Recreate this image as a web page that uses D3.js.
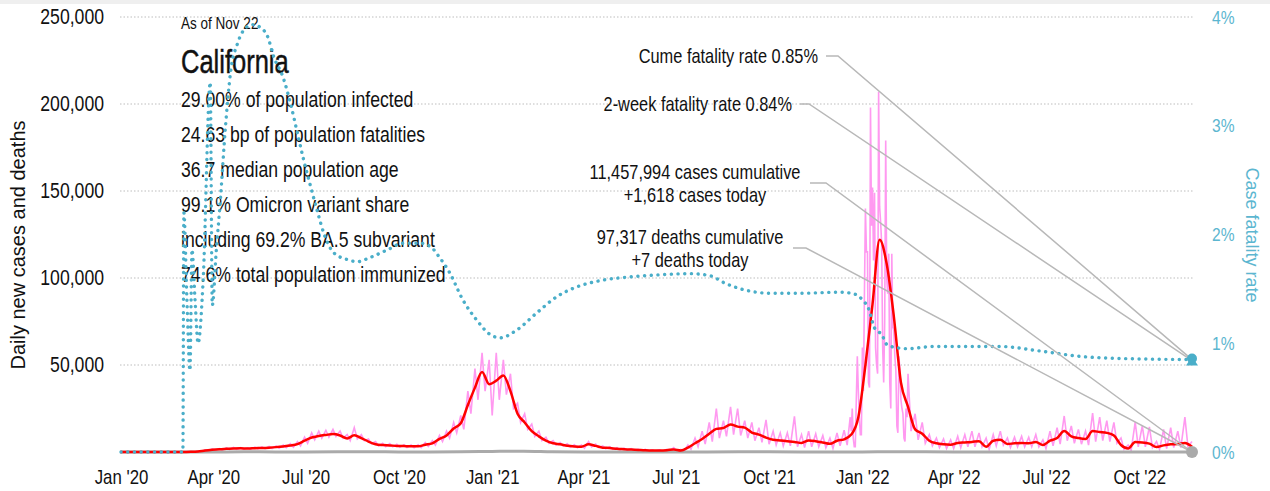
<!DOCTYPE html>
<html>
<head>
<meta charset="utf-8">
<script src="https://cdn.jsdelivr.net/npm/d3@7"></script>
<style>
  body { margin: 0; background: #fff; }
  svg { display: block; }
  text { font-family: "Liberation Sans", Arial, sans-serif; fill: #111; }
</style>
</head>
<body>
<div id="chart"></div>
<script>
// weekly series, first point Dec 31 2019, last Nov 22 2022 (thousands of cases)
var casesAvgK = [
  0, 0, 0, 0, 0, 0, 0, 0, 0, 0.05,
  0.1, 0.3, 0.9, 1.3, 1.6, 1.8, 2.0, 2.1, 2.0, 2.2,
  2.3, 2.5, 2.8, 3.2, 3.7, 4.5, 6.5, 8.3, 9.2, 9.8,
  10.3, 9.5, 7.8, 9.6, 8.0, 6.0, 4.5, 4.0, 3.8, 3.5,
  3.4, 3.3, 3.3, 4.2, 5.0, 7.5, 9.5, 13.5, 16.5, 27,
  37, 46, 39, 41, 44, 35, 22, 17, 12, 9,
  6.5, 5, 4.4, 3.6, 3.2, 3.0, 4.5, 3.5, 2.5, 2.3,
  1.8, 1.6, 1.4, 1.2, 1.0, 0.9, 0.9, 1.0, 1.5, 0.9,
  2.5, 5.0, 7.5, 10.5, 13.3, 13.8, 15.8, 14.6, 14.0, 11.2,
  10.0, 8.3, 7.0, 6.6, 6.2, 5.8, 5.2, 6.6, 6.2, 5.5,
  4.7, 6.5, 7.3, 10, 20, 50, 85, 122, 108, 78,
  40, 26, 13, 10.5, 6.5, 5.0, 4.4, 4.2, 5.2, 5.5,
  5.8, 6.2, 3.0, 6.5, 7.0, 4.6, 5.0, 5.2, 5.0, 5.8,
  4.0, 6.5, 8.0, 12.0, 9.0, 8.0, 7.5, 12.0, 11.5, 11.0,
  9.5, 4.0, 2.0, 5.7, 5.5, 4.8, 2.9, 3.8, 4.4, 4.6,
  5.2, 3.0
]

// daily reports: highest and lowest day of each week (thousands)
var dailyPeakK = [
  0, 0, 0, 0, 0, 0, 0, 0, 0, 0.1,
  0.2, 0.5, 1.2, 1.8, 2.0, 2.3, 2.6, 2.5, 2.4, 2.8,
  2.9, 3.2, 3.5, 4.0, 4.8, 6.0, 8.5, 11.0, 12.0, 12.5,
  13.0, 12.0, 10.0, 14.0, 10.0, 7.5, 6.0, 5.0, 4.8, 4.5,
  4.2, 4.0, 4.2, 5.5, 6.5, 9.5, 12.0, 17.0, 21.0, 35.0,
  48.0, 57.0, 53.0, 57.0, 53.0, 45.0, 28.0, 22.0, 16.0, 12.0,
  8.5, 6.5, 5.5, 4.8, 4.2, 4.0, 6.0, 4.5, 3.5, 3.0,
  2.5, 2.2, 2.0, 1.7, 1.5, 1.3, 1.3, 1.5, 2.5, 1.5,
  4.0, 8.0, 12.0, 17.0, 25.0, 18.0, 26.0, 25.0, 18.0, 17.0,
  14.0, 18.5, 12.0, 11.0, 11.0, 20.5, 10.0, 12.0, 10.5, 9.5,
  8.0, 11.0, 12.5, 16.0, 35.0, 80.0, 197.0, 207.0, 179.0, 115.0,
  70.0, 45.0, 22.0, 17.0, 10.0, 8.0, 7.5, 7.0, 9.0, 10.0,
  12.0, 11.0, 8.0, 10.0, 12.0, 8.0, 8.5, 9.0, 8.5, 10.0,
  7.0, 12.0, 14.0, 20.7, 15.0, 13.0, 12.0, 22.4, 20.1, 18.0,
  17.0, 8.0, 4.0, 17.2, 15.0, 14.4, 6.0, 13.0, 14.0, 12.0,
  20.0, 6.0
]
var dailyLowK = [
  0, 0, 0, 0, 0, 0, 0, 0, 0, 0,
  0.05, 0.2, 0.7, 1.0, 1.2, 1.4, 1.5, 1.7, 1.6, 1.8,
  1.9, 2.0, 2.2, 2.5, 2.8, 3.5, 5.0, 7.0, 8.0, 8.5,
  9.0, 8.0, 6.5, 7.5, 6.5, 4.8, 3.5, 3.0, 3.0, 2.7,
  2.6, 2.5, 2.6, 3.2, 4.0, 6.0, 8.0, 11.0, 13.0, 22.0,
  30.0, 35.0, 21.0, 30.0, 33.0, 25.0, 17.0, 13.0, 9.0, 6.5,
  5.0, 4.0, 3.5, 2.8, 2.5, 2.2, 3.0, 2.5, 1.8, 1.6,
  1.3, 1.1, 1.0, 0.8, 0.6, 0.5, 0.5, 0.6, 0.5, 0.2,
  1.5, 3.0, 4.5, 6.0, 8.0, 9.0, 10.0, 9.5, 8.0, 6.5,
  5.5, 4.5, 4.0, 3.5, 3.5, 3.0, 2.5, 3.0, 3.0, 2.5,
  2.0, 3.5, 4.0, 6.0, 12.0, 30.0, 37.0, 45.0, 70.0, 45.0,
  20.0, 12.0, 7.0, 5.0, 3.5, 2.5, 2.0, 2.0, 2.5, 3.0,
  3.0, 3.0, 1.5, 3.5, 4.0, 2.5, 3.0, 3.0, 3.0, 3.0,
  2.0, 3.5, 4.5, 6.5, 5.0, 4.5, 4.0, 6.0, 6.5, 6.0,
  5.0, 1.5, 1.0, 3.0, 3.0, 2.5, 1.5, 2.0, 2.5, 2.5,
  3.0, 2.0
]

// Omicron wave, day by day from Dec 20 2021 (thousands); replaces the weekly pairs there
var omicronStart = "2021-12-20"
var omicronDailyK = [
  20, 12, 25, 8, 3, 3, 30, 55, 35, 20,
  10, 10, 60, 35, 90, 140, 115, 115, 40, 37,
  198, 130, 152, 110, 149, 60, 50, 45, 207, 141,
  132, 120, 60, 40, 75, 179, 100, 91, 114, 40,
  25, 114, 72, 70, 55, 47, 15, 11, 55, 47,
  30, 25, 22, 8, 6, 25, 20
]

// deaths, 7-day average
var deathDates = ["2020-01-01", "2020-03-01", "2020-04-01", "2020-05-01", "2020-06-01", "2020-07-01",
  "2020-08-01", "2020-09-01", "2020-10-01", "2020-11-01", "2020-12-01", "2021-01-01", "2021-02-01",
  "2021-03-01", "2021-04-01", "2021-05-01", "2021-06-01", "2021-07-01", "2021-08-01", "2021-09-01",
  "2021-10-01", "2021-11-01", "2021-12-01", "2022-01-01", "2022-02-01", "2022-03-01", "2022-04-01",
  "2022-05-01", "2022-06-01", "2022-07-01", "2022-08-01", "2022-09-01", "2022-10-01", "2022-11-01",
  "2022-11-22"]
var deaths = [0, 0, 20, 75, 70, 60, 130, 110, 70, 40, 80, 330, 500, 200, 60, 25, 20, 20, 60, 100,
  80, 50, 50, 60, 170, 110, 40, 20, 30, 40, 45, 35, 25, 20, 15]

// case fatality rate (%)
var cfrDates = ["2020-01-01", "2020-03-02", "2020-03-03", "2020-03-06", "2020-03-09", "2020-03-11",
  "2020-03-14", "2020-03-17", "2020-03-22", "2020-03-29", "2020-03-31", "2020-04-04", "2020-04-08",
  "2020-04-13", "2020-04-18", "2020-04-25", "2020-05-03", "2020-05-10", "2020-05-18", "2020-05-25",
  "2020-05-30", "2020-06-09", "2020-06-16", "2020-06-23", "2020-06-29", "2020-07-06", "2020-07-13",
  "2020-07-19", "2020-07-29", "2020-08-11", "2020-08-21", "2020-09-03", "2020-09-20", "2020-10-05",
  "2020-10-22", "2020-11-01", "2020-11-10", "2020-11-20", "2020-12-03", "2020-12-17", "2020-12-30",
  "2021-01-09", "2021-01-25", "2021-02-14", "2021-03-06", "2021-03-26", "2021-04-20", "2021-05-17",
  "2021-06-16", "2021-07-15", "2021-08-04", "2021-08-19", "2021-09-07", "2021-10-02", "2021-11-01",
  "2021-12-10", "2021-12-25", "2022-01-01", "2022-01-07", "2022-01-13", "2022-01-20", "2022-01-26",
  "2022-02-14", "2022-03-12", "2022-04-04", "2022-04-27", "2022-05-17", "2022-06-24", "2022-08-03",
  "2022-09-12", "2022-11-22"]
var cfr = [0, 0, 2.20, 1.40, 0.75, 1.86, 1.40, 1.00, 1.58, 3.40, 1.35, 1.86, 2.32,
  2.99, 3.49, 3.76, 3.90, 3.93, 3.90, 3.81,
  3.65, 3.44, 3.21, 2.93, 2.69, 2.44, 2.20,
  2.01, 1.83, 1.77, 1.75, 1.79, 1.86, 1.92,
  1.92, 1.89, 1.79, 1.65, 1.40, 1.21, 1.08,
  1.05, 1.12, 1.28, 1.43, 1.52, 1.58, 1.61,
  1.63, 1.64, 1.62, 1.55, 1.49, 1.46, 1.46,
  1.47, 1.45, 1.40, 1.32, 1.14, 1.08, 0.98,
  0.95, 0.97, 0.97, 0.97, 0.97, 0.93, 0.88,
  0.86, 0.85]

var leftTicks = [50000, 100000, 150000, 200000, 250000]
var rightTicks = [0, 1, 2, 3, 4]

var stats = [
  "29.00% of population infected",
  "24.63 bp of population fatalities",
  "36.7 median population age",
  "99.1% Omicron variant share",
  "including 69.2% BA.5 subvariant",
  "74.6% total population immunized"
]

var width = 1270, height = 491
var margin = { top: 17, right: 78, bottom: 39, left: 121 }
var NARROW = 0.82   // no condensed face installed, so squeeze the regular one

var svg = d3.select("#chart").append("svg")
  .attr("width", width)
  .attr("height", height)

var parse = d3.utcParse("%Y-%m-%d")
var start = parse("2019-12-31")
var weekDate = i => d3.utcDay.offset(start, 7 * i)

var x = d3.scaleUtc()
  .domain([parse("2020-01-01"), parse("2022-11-22")])
  .range([margin.left, width - margin.right])

var y = d3.scaleLinear()
  .domain([0, 250000])
  .range([height - margin.bottom, margin.top])

var yr = d3.scaleLinear()
  .domain([0, 4])
  .range([height - margin.bottom, margin.top])

function label(px, py, str, size, anchor, k) {
  return svg.append("text")
    .attr("transform", `translate(${px},${py}) scale(${k || NARROW},1)`)
    .attr("text-anchor", anchor || "start")
    .style("font-size", size + "px")
    .text(str)
}

// thin grey strip along the top
svg.append("rect").attr("x", 0).attr("y", 0).attr("width", width).attr("height", 4).attr("fill", "#efefef")

// grid
svg.append("g").selectAll("line")
  .data(leftTicks)
  .join("line")
  .attr("x1", margin.left - 1)
  .attr("x2", width - margin.right + 1)
  .attr("y1", d => y(d))
  .attr("y2", d => y(d))
  .attr("stroke", "#bdbdbd")
  .attr("stroke-dasharray", "1.5 2")

// left axis
var yAxis = svg.append("g")
  .attr("transform", `translate(${margin.left - 17},0)`)
  .call(d3.axisLeft(y).tickValues(leftTicks).tickFormat(d3.format(",")).tickSize(0))
yAxis.select(".domain").remove()
yAxis.selectAll("text").attr("x", 0).attr("transform", `scale(${NARROW},1)`)
  .style("font-size", "21.5px").attr("fill", "#111")

// right axis
var rAxis = svg.append("g")
  .attr("transform", `translate(${width - margin.right + 20},0)`)
  .call(d3.axisRight(yr).tickValues(rightTicks).tickFormat(d => d + "%").tickSize(0))
rAxis.select(".domain").remove()
rAxis.selectAll("text").attr("x", 0).attr("transform", `scale(${NARROW},1)`)
  .style("font-size", "19px").style("fill", "#5cb6d0")

// x axis
var xAxis = svg.append("g")
  .attr("transform", `translate(0,${height - margin.bottom + 14})`)
  .call(d3.axisBottom(x).ticks(d3.utcMonth.every(3)).tickFormat(d3.utcFormat("%b '%y")).tickSize(0))
xAxis.select(".domain").remove()
xAxis.selectAll("text").attr("dy", "0.71em").attr("transform", `scale(${NARROW},1)`)
  .style("font-size", "20.5px").attr("fill", "#111")

// axis titles
svg.append("text")
  .attr("transform", "translate(25,245) rotate(-90)")
  .attr("text-anchor", "middle")
  .style("font-size", "20px")
  .text("Daily new cases and deaths")

svg.append("text")
  .attr("transform", "translate(1246,235) rotate(90)")
  .attr("text-anchor", "middle")
  .style("font-size", "18px")
  .style("fill", "#5cb6d0")
  .text("Case fatality rate")

// headline block
label(181, 29, "As of Nov 22", 16.5)
label(181, 73, "California", 34, "start", 0.75).style("stroke", "#111").style("stroke-width", 0.5)
stats.forEach((d, i) => label(181, 107 + i * 35, d, 21.5))

// daily cases, zig-zag between each week's high and low day
var omiFrom = parse(omicronStart)
var omiDaily = omicronDailyK.map((v, i) => ({ date: d3.utcDay.offset(omiFrom, i), v: v * 1000 }))
var omiTo = omiDaily[omiDaily.length - 1].date

var daily = []
dailyPeakK.forEach(function (v, i) {
  daily.push({ date: weekDate(i), v: v * 1000 })
  daily.push({ date: d3.utcDay.offset(weekDate(i), 3), v: dailyLowK[i] * 1000 })
})
daily = daily
  .filter(d => d.date <= x.domain()[1] && (d.date < omiFrom || d.date > omiTo))
  .concat(omiDaily)
  .sort((a, b) => a.date - b.date)

svg.append("path")
  .datum(daily)
  .attr("fill", "none")
  .attr("stroke", "#ff99f0")
  .attr("stroke-width", 1.6)
  .attr("d", d3.line().x(d => x(d.date)).y(d => y(d.v)))

// deaths
svg.append("path")
  .datum(deaths.map((v, i) => ({ date: parse(deathDates[i]), v: v })))
  .attr("fill", "none")
  .attr("stroke", "#aaaaaa")
  .attr("stroke-width", 3)
  .attr("d", d3.line().x(d => x(d.date)).y(d => y(d.v)).curve(d3.curveMonotoneX))

// 7-day average
svg.append("path")
  .datum(casesAvgK.map((v, i) => ({ date: weekDate(i), v: v * 1000 })))
  .attr("fill", "none")
  .attr("stroke", "#ff0000")
  .attr("stroke-width", 2.5)
  .attr("stroke-linejoin", "round")
  .attr("d", d3.line().x(d => x(d.date)).y(d => y(d.v)).curve(d3.curveMonotoneX))

// fatality rate
var cfrData = cfr.map((v, i) => ({ date: parse(cfrDates[i]), v: v }))
svg.append("path")
  .datum(cfrData)
  .attr("fill", "none")
  .attr("stroke", "#4aaec9")
  .attr("stroke-width", 3.4)
  .attr("stroke-linecap", "round")
  .attr("stroke-dasharray", "0.1 6.6")
  .attr("d", d3.line().x(d => x(d.date)).y(d => yr(d.v)).curve(d3.curveMonotoneX))

// annotations with leader lines
var endX = x(x.domain()[1])
var notes = [
  { lines: ["Cume fatality rate 0.85%"], anchor: "end", tx: 818, ty: 63, lx: 826, ly: 56, bend: 838, target: yr(0.85) },
  { lines: ["2-week fatality rate 0.84%"], anchor: "end", tx: 792, ty: 111, lx: 800, ly: 104, bend: 809, target: yr(0.84) },
  { lines: ["11,457,994 cases cumulative", "+1,618 cases today"], anchor: "middle", tx: 695, ty: 179, lx: 810, ly: 183, bend: 826, target: y(0) },
  { lines: ["97,317 deaths cumulative", "+7 deaths today"], anchor: "middle", tx: 690, ty: 244, lx: 793, ly: 248, bend: 806, target: y(0) }
]

notes.forEach(function (n) {
  svg.append("polyline")
    .attr("points", [[n.lx, n.ly], [n.bend, n.ly], [endX, n.target]].join(" "))
    .attr("fill", "none")
    .attr("stroke", "#b8b8b8")
    .attr("stroke-width", 1.5)
  n.lines.forEach((t, j) => label(n.tx, n.ty + j * 23, t, 20, n.anchor))
})

// end markers
svg.append("circle").attr("cx", endX).attr("cy", y(0)).attr("r", 6).attr("fill", "#aaaaaa")
var cy = yr(0.85)
svg.append("path")
  .attr("d", `M${endX - 6},${cy + 6}L${endX + 6},${cy + 6}L${endX},${cy - 3}Z`)
  .attr("fill", "#4aaec9")
svg.append("circle").attr("cx", endX).attr("cy", cy - 1).attr("r", 5).attr("fill", "#4aaec9")
</script>
</body>
</html>
